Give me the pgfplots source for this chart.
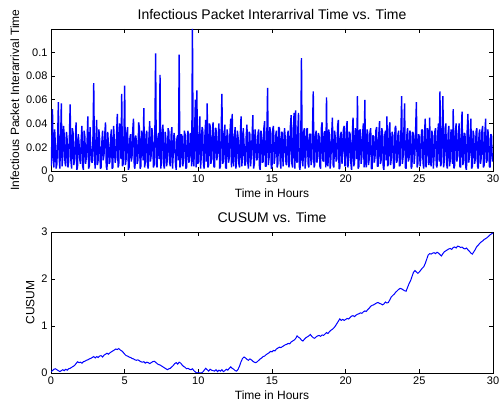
\documentclass[border=0pt]{standalone}
\usepackage{pgfplots}
\pgfplotsset{compat=1.18}
\usepackage{fontspec}
\setmainfont{Liberation Sans}
\pgfplotsset{mat/.style={
  scale only axis, width=442pt, anchor=south west,
  xmin=0, xmax=30, xtick={0,5,10,15,20,25,30},
  tick align=inside, major tick length=4pt,
  axis line style={line width=0.7pt},
  every tick/.style={black, line width=0.6pt},
  tick label style={font=\fontsize{11}{13}\selectfont},
  label style={font=\fontsize{12}{14}\selectfont},
  title style={font=\fontsize{14}{16}\selectfont},
  /pgf/number format/assume math mode=true,
  xlabel={Time in Hours},
}}
\begin{document}
\begin{tikzpicture}
\useasboundingbox (0pt,0pt) rectangle (501pt,404pt);
\begin{axis}[mat, at={(51pt,233pt)}, height=142pt,
  ymin=0, ymax=0.1196, ytick={0,0.02,0.04,0.06,0.08,0.1},
  yticklabel style={/pgf/number format/.cd, fixed, precision=2},
  title={Infectious Packet Interarrival Time vs. Time},
  ylabel={Infectious Packet Interarrival Time}]
\addplot[blue, line width=1.4pt, line join=bevel] coordinates {
(0.0,0.004)(0.05,0.021)(0.1,0.052)(0.15,0.008)(0.2,0.003)(0.25,0.035)(0.3,0.021)(0.35,0.002)(0.4,0.006)(0.45,0.027)(0.5,0.058)(0.55,0.012)(0.6,0.002)(0.65,0.024)(0.7,0.057)(0.75,0.004)(0.8,0.011)(0.85,0.038)(0.9,0.030)(0.95,0.007)
(1.0,0.004)(1.05,0.033)(1.1,0.026)(1.15,0.003)(1.2,0.008)(1.25,0.029)(1.3,0.056)(1.35,0.009)(1.4,0.002)(1.45,0.036)(1.5,0.032)(1.55,0.005)(1.6,0.010)(1.65,0.022)(1.7,0.041)(1.75,0.001)(1.8,0.003)(1.85,0.031)(1.9,0.024)(1.95,0.010)
(2.0,0.006)(2.05,0.027)(2.1,0.038)(2.15,0.004)(2.2,0.001)(2.25,0.034)(2.3,0.029)(2.35,0.006)(2.4,0.012)(2.45,0.025)(2.5,0.046)(2.55,0.002)(2.6,0.004)(2.65,0.037)(2.7,0.019)(2.75,0.008)(2.8,0.007)(2.85,0.030)(2.9,0.074)(2.95,0.011)
(3.0,0.002)(3.05,0.026)(3.1,0.043)(3.15,0.005)(3.2,0.009)(3.25,0.035)(3.3,0.027)(3.35,0.002)(3.4,0.003)(3.45,0.024)(3.5,0.034)(3.55,0.009)(3.6,0.014)(3.65,0.031)(3.7,0.041)(3.75,0.004)(3.8,0.001)(3.85,0.033)(3.9,0.022)(3.95,0.006)
(4.0,0.008)(4.05,0.029)(4.1,0.035)(4.15,0.002)(4.2,0.003)(4.25,0.038)(4.3,0.026)(4.35,0.007)(4.4,0.011)(4.45,0.030)(4.5,0.048)(4.55,0.003)(4.6,0.005)(4.65,0.040)(4.7,0.030)(4.75,0.010)(4.8,0.065)(4.85,0.004)(4.9,0.006)(4.95,0.028)
(5.0,0.072)(5.05,0.005)(5.1,0.010)(5.15,0.032)(5.2,0.037)(5.25,0.001)(5.3,0.003)(5.35,0.027)(5.4,0.031)(5.45,0.008)(5.5,0.012)(5.55,0.035)(5.6,0.044)(5.65,0.004)(5.7,0.002)(5.75,0.030)(5.8,0.025)(5.85,0.006)(5.9,0.009)(5.95,0.041)
(6.0,0.036)(6.05,0.002)(6.1,0.004)(6.15,0.034)(6.2,0.028)(6.25,0.009)(6.3,0.053)(6.35,0.003)(6.4,0.007)(6.45,0.030)(6.5,0.034)(6.55,0.005)(6.6,0.002)(6.65,0.029)(6.7,0.042)(6.75,0.008)(6.8,0.013)(6.85,0.036)(6.9,0.029)(6.95,0.003)
(7.0,0.005)(7.05,0.031)(7.1,0.099)(7.15,0.006)(7.2,0.003)(7.25,0.027)(7.3,0.032)(7.35,0.010)(7.4,0.081)(7.45,0.002)(7.5,0.008)(7.55,0.034)(7.6,0.039)(7.65,0.005)(7.7,0.002)(7.75,0.033)(7.8,0.027)(7.85,0.004)(7.9,0.010)(7.95,0.036)
(8.0,0.033)(8.05,0.007)(8.1,0.004)(8.15,0.030)(8.2,0.037)(8.25,0.002)(8.3,0.015)(8.35,0.032)(8.4,0.026)(8.45,0.006)(8.5,0.001)(8.55,0.028)(8.6,0.030)(8.65,0.009)(8.7,0.098)(8.75,0.003)(8.8,0.006)(8.85,0.031)(8.9,0.029)(8.95,0.004)
(9.0,0.011)(9.05,0.034)(9.1,0.031)(9.15,0.002)(9.2,0.003)(9.25,0.029)(9.3,0.034)(9.35,0.007)(9.4,0.009)(9.45,0.032)(9.5,0.028)(9.55,0.004)(9.6,0.1196)(9.65,0.010)(9.7,0.004)(9.75,0.035)(9.8,0.060)(9.85,0.003)(9.9,0.068)(9.95,0.006)
(10.0,0.007)(10.05,0.030)(10.1,0.046)(10.15,0.002)(10.2,0.012)(10.25,0.037)(10.3,0.035)(10.35,0.005)(10.4,0.002)(10.45,0.031)(10.5,0.043)(10.55,0.008)(10.6,0.057)(10.65,0.003)(10.7,0.005)(10.75,0.040)(10.8,0.038)(10.85,0.006)(10.9,0.010)(10.95,0.033)
(11.0,0.041)(11.05,0.004)(11.1,0.003)(11.15,0.036)(11.2,0.036)(11.25,0.009)(11.3,0.013)(11.35,0.030)(11.4,0.040)(11.45,0.002)(11.5,0.004)(11.55,0.034)(11.6,0.065)(11.65,0.006)(11.7,0.008)(11.75,0.031)(11.8,0.039)(11.85,0.003)(11.9,0.002)(11.95,0.035)
(12.0,0.030)(12.05,0.007)(12.1,0.011)(12.15,0.033)(12.2,0.044)(12.25,0.003)(12.3,0.048)(12.35,0.010)(12.4,0.004)(12.45,0.029)(12.5,0.037)(12.55,0.002)(12.6,0.009)(12.65,0.034)(12.7,0.028)(12.75,0.006)(12.8,0.003)(12.85,0.031)(12.9,0.046)(12.95,0.004)
(13.0,0.012)(13.05,0.036)(13.1,0.024)(13.15,0.005)(13.2,0.005)(13.25,0.030)(13.3,0.039)(13.35,0.008)(13.4,0.002)(13.45,0.033)(13.5,0.031)(13.55,0.004)(13.6,0.014)(13.65,0.029)(13.7,0.047)(13.75,0.002)(13.8,0.006)(13.85,0.035)(13.9,0.027)(13.95,0.009)
(14.0,0.010)(14.05,0.032)(14.1,0.035)(14.15,0.003)(14.2,0.001)(14.25,0.034)(14.3,0.030)(14.35,0.007)(14.4,0.008)(14.45,0.036)(14.5,0.042)(14.55,0.004)(14.6,0.004)(14.65,0.031)(14.7,0.070)(14.75,0.005)(14.8,0.011)(14.85,0.037)(14.9,0.033)(14.95,0.002)
(15.0,0.003)(15.05,0.035)(15.1,0.038)(15.15,0.006)(15.2,0.012)(15.25,0.030)(15.3,0.034)(15.35,0.003)(15.4,0.006)(15.45,0.037)(15.5,0.036)(15.55,0.009)(15.6,0.002)(15.65,0.033)(15.7,0.032)(15.75,0.004)(15.8,0.015)(15.85,0.036)(15.9,0.028)(15.95,0.006)
(16.0,0.005)(16.05,0.030)(16.1,0.034)(16.15,0.003)(16.2,0.009)(16.25,0.038)(16.3,0.047)(16.35,0.006)(16.4,0.003)(16.45,0.035)(16.5,0.049)(16.55,0.002)(16.6,0.051)(16.65,0.010)(16.7,0.007)(16.75,0.034)(16.8,0.049)(16.85,0.004)(16.9,0.001)(16.95,0.020)
(17.0,0.095)(17.05,0.008)(17.1,0.004)(17.15,0.033)(17.2,0.036)(17.25,0.002)(17.3,0.012)(17.35,0.035)(17.4,0.036)(17.45,0.006)(17.5,0.003)(17.55,0.031)(17.6,0.031)(17.65,0.005)(17.7,0.009)(17.75,0.034)(17.8,0.067)(17.85,0.003)(17.9,0.005)(17.95,0.030)
(18.0,0.034)(18.05,0.007)(18.1,0.013)(18.15,0.032)(18.2,0.029)(18.25,0.004)(18.3,0.002)(18.35,0.036)(18.4,0.041)(18.45,0.009)(18.5,0.008)(18.55,0.033)(18.6,0.033)(18.65,0.003)(18.7,0.062)(18.75,0.006)(18.8,0.004)(18.85,0.035)(18.9,0.030)(18.95,0.002)
(19.0,0.011)(19.05,0.031)(19.1,0.045)(19.15,0.005)(19.2,0.003)(19.25,0.034)(19.3,0.028)(19.35,0.008)(19.4,0.010)(19.45,0.037)(19.5,0.043)(19.55,0.002)(19.6,0.002)(19.65,0.030)(19.7,0.033)(19.75,0.006)(19.8,0.014)(19.85,0.035)(19.9,0.038)(19.95,0.004)
(20.0,0.005)(20.05,0.036)(20.1,0.042)(20.15,0.003)(20.2,0.009)(20.25,0.033)(20.3,0.031)(20.35,0.007)(20.4,0.001)(20.45,0.030)(20.5,0.045)(20.55,0.004)(20.6,0.007)(20.65,0.036)(20.7,0.030)(20.75,0.010)(20.8,0.063)(20.85,0.002)(20.9,0.004)(20.95,0.034)
(21.0,0.035)(21.05,0.006)(21.1,0.012)(21.15,0.031)(21.2,0.040)(21.25,0.003)(21.3,0.060)(21.35,0.008)(21.4,0.003)(21.45,0.035)(21.5,0.032)(21.55,0.005)(21.6,0.010)(21.65,0.033)(21.7,0.036)(21.75,0.002)(21.8,0.002)(21.85,0.030)(21.9,0.029)(21.95,0.007)
(22.0,0.013)(22.05,0.034)(22.1,0.037)(22.15,0.004)(22.2,0.004)(22.25,0.031)(22.3,0.042)(22.35,0.006)(22.4,0.008)(22.45,0.036)(22.5,0.033)(22.55,0.003)(22.6,0.001)(22.65,0.030)(22.7,0.034)(22.75,0.009)(22.8,0.046)(22.85,0.004)(22.9,0.006)(22.95,0.035)
(23.0,0.041)(23.05,0.005)(23.1,0.011)(23.15,0.033)(23.2,0.030)(23.25,0.002)(23.3,0.003)(23.35,0.036)(23.4,0.038)(23.45,0.007)(23.5,0.009)(23.55,0.031)(23.6,0.034)(23.65,0.004)(23.7,0.005)(23.75,0.033)(23.8,0.063)(23.85,0.006)(23.9,0.012)(23.95,0.034)
(24.0,0.057)(24.05,0.003)(24.1,0.002)(24.15,0.030)(24.2,0.036)(24.25,0.008)(24.3,0.010)(24.35,0.034)(24.4,0.032)(24.45,0.002)(24.5,0.004)(24.55,0.033)(24.6,0.031)(24.65,0.006)(24.7,0.014)(24.75,0.036)(24.8,0.058)(24.85,0.003)(24.9,0.006)(24.95,0.031)
(25.0,0.029)(25.05,0.004)(25.1,0.011)(25.15,0.034)(25.2,0.035)(25.25,0.007)(25.3,0.002)(25.35,0.031)(25.4,0.044)(25.45,0.003)(25.5,0.008)(25.55,0.036)(25.6,0.033)(25.65,0.005)(25.7,0.045)(25.75,0.009)(25.8,0.004)(25.85,0.034)(25.9,0.030)(25.95,0.002)
(26.0,0.012)(26.05,0.033)(26.1,0.036)(26.15,0.005)(26.2,0.003)(26.25,0.032)(26.3,0.040)(26.35,0.008)(26.4,0.067)(26.45,0.004)(26.5,0.007)(26.55,0.035)(26.6,0.063)(26.65,0.003)(26.7,0.010)(26.75,0.036)(26.8,0.040)(26.85,0.006)(26.9,0.002)(26.95,0.031)
(27.0,0.038)(27.05,0.004)(27.1,0.009)(27.15,0.035)(27.2,0.032)(27.25,0.006)(27.3,0.052)(27.35,0.002)(27.4,0.005)(27.45,0.034)(27.5,0.040)(27.55,0.008)(27.6,0.013)(27.65,0.031)(27.7,0.040)(27.75,0.004)(27.8,0.003)(27.85,0.033)(27.9,0.050)(27.95,0.005)
(28.0,0.008)(28.05,0.032)(28.1,0.031)(28.15,0.003)(28.2,0.001)(28.25,0.035)(28.3,0.048)(28.35,0.007)(28.4,0.012)(28.45,0.030)(28.5,0.044)(28.55,0.002)(28.6,0.004)(28.65,0.034)(28.7,0.030)(28.75,0.006)(28.8,0.010)(28.85,0.033)(28.9,0.036)(28.95,0.004)
(29.0,0.002)(29.05,0.031)(29.1,0.035)(29.15,0.006)(29.2,0.011)(29.25,0.034)(29.3,0.038)(29.35,0.003)(29.4,0.005)(29.45,0.032)(29.5,0.044)(29.55,0.007)(29.6,0.009)(29.65,0.035)(29.7,0.028)(29.75,0.004)(29.8,0.003)(29.85,0.031)(29.9,0.030)(29.95,0.008)
(30.0,0.015)
};
\end{axis}
\begin{axis}[mat, at={(51pt,31pt)}, height=141pt,
  ymin=0, ymax=3, ytick={0,1,2,3},
  title={CUSUM vs. Time}, ylabel={CUSUM}]
\addplot[blue, line width=1pt] coordinates {
(0,0.03)(0.1,0.05)(0.2,0.08)(0.3,0.09)(0.4,0.07)(0.5,0.05)(0.6,0.03)(0.7,0.05)(0.8,0.07)(0.9,0.05)
(1.0,0.08)(1.1,0.06)(1.2,0.09)(1.3,0.10)(1.4,0.12)(1.5,0.14)(1.6,0.16)(1.7,0.20)(1.8,0.24)(1.9,0.22)
(2.0,0.23)(2.1,0.21)(2.2,0.24)(2.3,0.25)(2.4,0.27)(2.5,0.28)(2.6,0.30)(2.7,0.31)(2.8,0.33)(2.9,0.35)
(3.0,0.32)(3.1,0.35)(3.2,0.33)(3.3,0.36)(3.4,0.37)(3.5,0.34)(3.6,0.38)(3.7,0.40)(3.8,0.42)(3.9,0.40)
(4.0,0.43)(4.1,0.45)(4.2,0.47)(4.3,0.49)(4.4,0.51)(4.5,0.50)(4.6,0.52)(4.7,0.49)(4.8,0.47)(4.9,0.44)
(5.0,0.40)(5.1,0.37)(5.2,0.36)(5.3,0.34)(5.4,0.33)(5.5,0.31)(5.6,0.30)(5.7,0.28)(5.8,0.27)(5.9,0.28)
(6.0,0.26)(6.1,0.24)(6.2,0.23)(6.3,0.24)(6.4,0.21)(6.5,0.23)(6.6,0.22)(6.7,0.20)(6.8,0.22)(6.9,0.24)
(7.0,0.25)(7.1,0.23)(7.2,0.20)(7.3,0.18)(7.4,0.17)(7.5,0.15)(7.6,0.13)(7.7,0.11)(7.8,0.09)(7.9,0.07)
(8.0,0.09)(8.1,0.10)(8.2,0.13)(8.3,0.16)(8.4,0.20)(8.5,0.22)(8.6,0.19)(8.7,0.23)(8.8,0.21)(8.9,0.17)
(9.0,0.14)(9.1,0.12)(9.2,0.09)(9.3,0.10)(9.4,0.08)(9.5,0.07)(9.6,0.09)(9.7,0.05)(9.8,0.02)(9.9,0.00)
(10.0,0.01)(10.1,0.00)(10.2,0.00)(10.3,0.02)(10.4,0.06)(10.5,0.10)(10.6,0.07)(10.7,0.04)(10.8,0.08)(10.9,0.06)
(11.0,0.05)(11.1,0.04)(11.2,0.07)(11.3,0.03)(11.4,0.06)(11.5,0.04)(11.6,0.07)(11.7,0.03)(11.8,0.05)(11.9,0.08)
(12.0,0.06)(12.1,0.10)(12.2,0.13)(12.3,0.10)(12.4,0.08)(12.5,0.05)(12.6,0.04)(12.7,0.08)(12.8,0.15)(12.9,0.24)
(13.0,0.31)(13.1,0.34)(13.2,0.32)(13.3,0.29)(13.4,0.27)(13.5,0.30)(13.6,0.28)(13.7,0.25)(13.8,0.23)(13.9,0.22)
(14.0,0.24)(14.1,0.27)(14.2,0.30)(14.3,0.32)(14.4,0.35)(14.5,0.36)(14.6,0.39)(14.7,0.41)(14.8,0.43)(14.9,0.46)
(15.0,0.45)(15.1,0.48)(15.2,0.47)(15.3,0.51)(15.4,0.53)(15.5,0.55)(15.6,0.54)(15.7,0.56)(15.8,0.58)(15.9,0.60)
(16.0,0.61)(16.1,0.63)(16.2,0.62)(16.3,0.66)(16.4,0.68)(16.5,0.70)(16.6,0.73)(16.7,0.79)(16.8,0.76)(16.9,0.74)
(17.0,0.70)(17.1,0.68)(17.2,0.72)(17.3,0.75)(17.4,0.77)(17.5,0.79)(17.6,0.82)(17.7,0.78)(17.8,0.75)(17.9,0.74)
(18.0,0.77)(18.1,0.79)(18.2,0.80)(18.3,0.78)(18.4,0.81)(18.5,0.80)(18.6,0.83)(18.7,0.86)(18.8,0.84)(18.9,0.88)
(19.0,0.91)(19.1,0.93)(19.2,0.96)(19.3,1.00)(19.4,1.05)(19.5,1.10)(19.6,1.15)(19.7,1.12)(19.8,1.14)(19.9,1.12)
(20.0,1.14)(20.1,1.16)(20.2,1.15)(20.3,1.18)(20.4,1.21)(20.5,1.22)(20.6,1.20)(20.7,1.23)(20.8,1.25)(20.9,1.26)
(21.0,1.28)(21.1,1.27)(21.2,1.30)(21.3,1.32)(21.4,1.31)(21.5,1.35)(21.6,1.38)(21.7,1.42)(21.8,1.44)(21.9,1.45)
(22.0,1.47)(22.1,1.49)(22.2,1.50)(22.3,1.48)(22.4,1.47)(22.5,1.45)(22.6,1.47)(22.7,1.51)(22.8,1.49)(22.9,1.50)
(23.0,1.56)(23.1,1.62)(23.2,1.65)(23.3,1.68)(23.4,1.72)(23.5,1.75)(23.6,1.78)(23.7,1.80)(23.8,1.79)(23.9,1.77)
(24.0,1.75)(24.1,1.74)(24.2,1.82)(24.3,1.90)(24.4,1.96)(24.5,2.05)(24.6,2.14)(24.7,2.18)(24.8,2.15)(24.9,2.12)
(25.0,2.15)(25.1,2.19)(25.2,2.23)(25.3,2.26)(25.4,2.33)(25.5,2.42)(25.6,2.51)(25.7,2.54)(25.8,2.53)(25.9,2.55)
(26.0,2.56)(26.1,2.54)(26.2,2.57)(26.3,2.55)(26.4,2.52)(26.5,2.49)(26.6,2.54)(26.7,2.58)(26.8,2.60)(26.9,2.62)
(27.0,2.64)(27.1,2.65)(27.2,2.63)(27.3,2.67)(27.4,2.68)(27.5,2.66)(27.6,2.70)(27.7,2.69)(27.8,2.67)(27.9,2.68)
(28.0,2.65)(28.1,2.64)(28.2,2.66)(28.3,2.62)(28.4,2.59)(28.5,2.55)(28.6,2.53)(28.7,2.58)(28.8,2.63)(28.9,2.69)
(29.0,2.72)(29.1,2.76)(29.2,2.79)(29.3,2.81)(29.4,2.84)(29.5,2.86)(29.6,2.88)(29.7,2.91)(29.8,2.94)(29.9,2.96)
(30.0,2.98)
};
\end{axis}
\end{tikzpicture}
\end{document}
